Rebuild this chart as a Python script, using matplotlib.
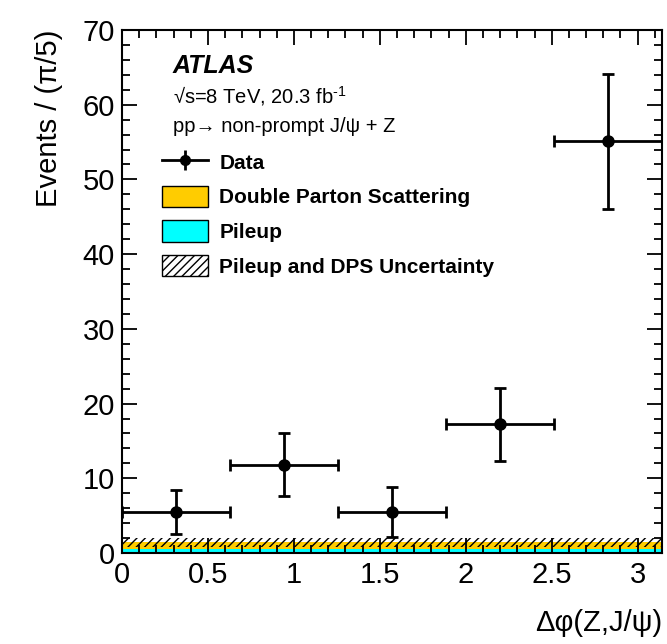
import numpy as np
import matplotlib
matplotlib.use("Agg")
import matplotlib.pyplot as plt
from matplotlib.patches import Patch
from matplotlib.lines import Line2D
from matplotlib.ticker import MultipleLocator

plt.rcParams['font.family'] = ['Liberation Sans', 'DejaVu Sans']
plt.rcParams['mathtext.fontset'] = 'custom'
plt.rcParams['mathtext.rm'] = 'Liberation Sans'
plt.rcParams['mathtext.it'] = 'Liberation Sans:italic'
plt.rcParams['mathtext.bf'] = 'Liberation Sans:bold'

# binning: 5 bins of pi/5 in delta phi
bin_edges = np.linspace(0, np.pi, 6)
bin_centres = 0.5 * (bin_edges[1:] + bin_edges[:-1])
bin_width = np.pi / 5

# data
data_vals = [5.5, 11.8, 5.5, 17.3, 55.1]
data_err_lo = [3.0, 4.2, 3.3, 5.0, 9.1]
data_err_hi = [2.9, 4.2, 3.3, 4.8, 9.0]

# backgrounds (stacked), roughly flat
pileup = [0.55, 0.55, 0.55, 0.55, 0.55]
dps = [0.9, 0.9, 0.9, 0.9, 0.9]
unc_lo = [0.85, 0.85, 0.85, 0.85, 0.85]
unc_hi = [2.05, 2.05, 2.05, 2.05, 2.05]

col_dps = '#FFCC00'
col_pu = '#00FFFF'

fig = plt.figure(figsize=(6.67, 6.44), dpi=100)
ax = fig.add_axes([122 / 667, 91 / 644, 540 / 667, 523 / 644])

ax.bar(bin_centres, pileup, width=bin_width, color=col_pu, linewidth=0, zorder=1)
ax.bar(bin_centres, dps, width=bin_width, bottom=pileup, color=col_dps, linewidth=0, zorder=1)
ax.bar(bin_centres, np.array(unc_hi) - np.array(unc_lo), width=bin_width, bottom=unc_lo,
       fill=False, hatch='////', edgecolor='black', linewidth=0, zorder=1.5)

ax.errorbar(bin_centres, data_vals, yerr=[data_err_lo, data_err_hi],
            xerr=bin_width / 2, fmt='o', color='black', markersize=8,
            elinewidth=2, capsize=4, capthick=2, zorder=3)

ax.set_xlim(0, np.pi)
ax.set_ylim(0, 70)
ax.xaxis.set_major_locator(MultipleLocator(0.5))
ax.xaxis.set_minor_locator(MultipleLocator(0.1))
ax.yaxis.set_major_locator(MultipleLocator(10))
ax.yaxis.set_minor_locator(MultipleLocator(2))
ax.tick_params(which='both', direction='in', top=True, right=True, labelsize=21, width=1.3)
ax.tick_params(which='major', length=11)
ax.tick_params(which='minor', length=5.5)
ax.tick_params(axis='x', pad=6)
ax.tick_params(axis='y', pad=5)
ax.set_xticks([0, 0.5, 1, 1.5, 2, 2.5, 3])
ax.set_xticklabels(['0', '0.5', '1', '1.5', '2', '2.5', '3'])
for s in ax.spines.values():
    s.set_linewidth(1.5)

ax.set_ylabel('Events / (π/5)', fontsize=21, loc='top', labelpad=14)
ax.set_xlabel('Δφ(Z,J/ψ)', fontsize=21, loc='right', labelpad=14)

fig.text(173 / 667, 1 - 66 / 644, 'ATLAS', fontsize=18, fontweight='bold', style='italic',
         va='center', ha='left')
fig.text(173 / 667, 1 - 96 / 644, '√s=8 TeV, 20.3 fb$^{\\text{-1}}$', fontsize=14.5,
         va='center', ha='left')
fig.text(173 / 667, 1 - 127 / 644, 'pp→ non-prompt J/ψ + Z', fontsize=14.5,
         va='center', ha='left')

data_handle = (Line2D([], [], color='black', lw=2, marker='o', markersize=7),
               Line2D([], [], color='black', lw=0, marker='|', markersize=14, markeredgewidth=2))
handles = [data_handle,
           Patch(facecolor=col_dps, edgecolor='black', linewidth=1),
           Patch(facecolor=col_pu, edgecolor='black', linewidth=1),
           Patch(facecolor='white', edgecolor='black', hatch='////', linewidth=1)]
labels = ['Data', 'Double Parton Scattering', 'Pileup', 'Pileup and DPS Uncertainty']
leg = fig.legend(handles, labels, loc='upper left', bbox_to_anchor=(162 / 667, 1 - 151 / 644),
                 frameon=False, prop={'size': 15, 'weight': 'bold'},
                 handlelength=2.2, handleheight=1.2, handletextpad=0.55, labelspacing=0.62,
                 borderaxespad=0, borderpad=0)

fig.savefig('out.png', dpi=100)
